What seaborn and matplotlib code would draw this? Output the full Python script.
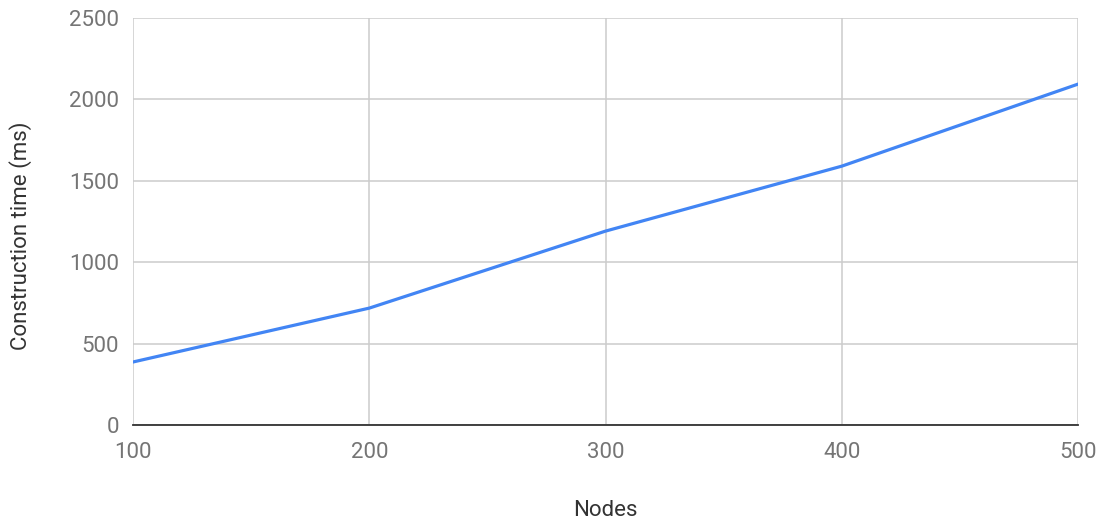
import matplotlib
matplotlib.use('Agg')
import matplotlib.pyplot as plt
import pandas as pd
import seaborn as sns

nodes = [100, 200, 300, 400, 500]
construction_ms = [387, 718, 1191, 1590, 2094]

sns.set_theme(style='white')
plt.rcParams['font.family'] = ['Roboto', 'DejaVu Sans']

df = pd.DataFrame({'Nodes': nodes, 'Construction time (ms)': construction_ms})

fig = plt.figure(figsize=(11.05, 5.25), dpi=100)
ax = fig.add_axes([0.1204, 0.1905, 0.8552, 0.7752])

sns.lineplot(data=df, x='Nodes', y='Construction time (ms)', color='#4285F4',
             linewidth=2.3, ax=ax)

ax.set_xlim(100, 500)
ax.set_ylim(0, 2500)
ax.set_xticks(nodes)
ax.set_yticks(range(0, 2501, 500))

ax.grid(True, color='#cccccc', linewidth=1.1)
ax.set_axisbelow(True)
for s in ['top', 'right', 'left']:
    ax.spines[s].set_visible(False)
ax.spines['bottom'].set_color('#333333')
ax.spines['bottom'].set_linewidth(1.3)
ax.spines['bottom'].set_zorder(3)

ax.tick_params(axis='both', length=0, labelsize=16, labelcolor='#757575')
ax.tick_params(axis='x', pad=12)
ax.tick_params(axis='y', pad=10)

ax.set_xlabel('Nodes', fontsize=16, color='#333333', labelpad=27)
ax.set_ylabel('Construction time (ms)', fontsize=16, color='#333333')
# label sits a bit below the middle of the axes in the original
ax.yaxis.set_label_coords(-0.107, 0.464)

plt.savefig('out.png', dpi=100)
